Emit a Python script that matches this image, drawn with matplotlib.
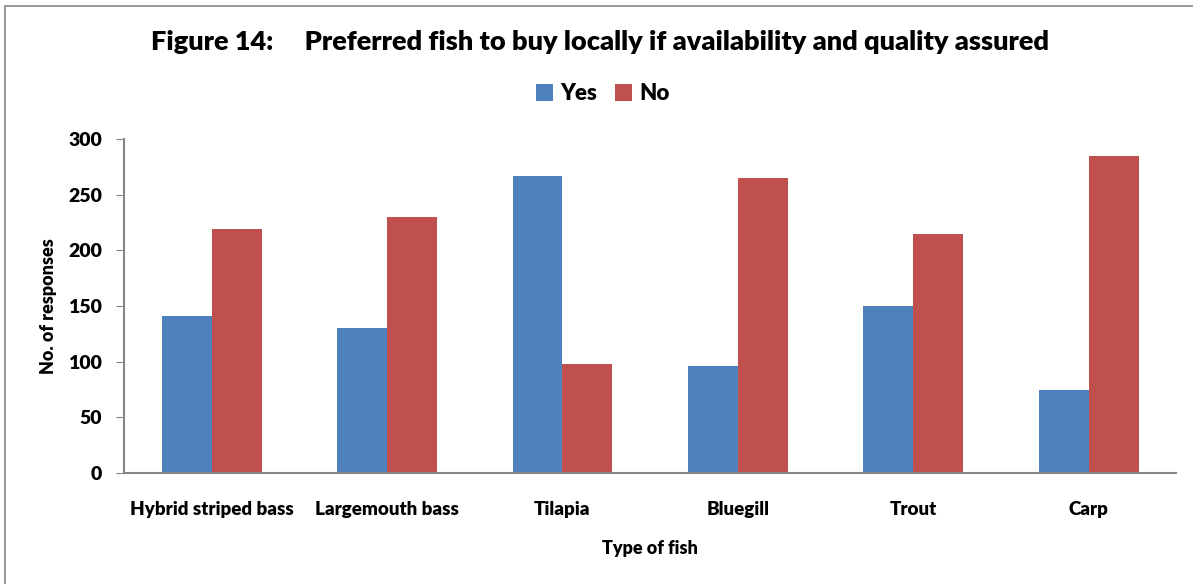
import numpy as np
import matplotlib.pyplot as plt
from matplotlib.patches import Rectangle

# Data
fish = ['Hybrid striped bass', 'Largemouth bass', 'Tilapia', 'Bluegill', 'Trout', 'Carp']
yes_counts = [141, 130, 267, 96, 150, 75]
no_counts = [219, 230, 98, 265, 215, 285]
y_ticks = [0, 50, 100, 150, 200, 250, 300]

plt.rcParams['font.family'] = ['Lato', 'DejaVu Sans']
W = 'heavy'


def main():
    fig = plt.figure(figsize=(11.93, 5.84), dpi=100)
    ax = fig.add_axes([0.104, 0.190, 0.882, 0.572])

    x = np.arange(len(fish))
    width = 0.285
    ax.bar(x - width / 2, yes_counts, width, color='#4F81BD', label='Yes')
    ax.bar(x + width / 2, no_counts, width, color='#C0504D', label='No')

    ax.set_xlim(-0.5, len(fish) - 0.5)
    ax.set_ylim(0, 300)
    ax.set_yticks(y_ticks)
    ax.set_xticks(x)
    ax.set_xticklabels(fish, fontsize=13.5, fontweight=W)
    ax.tick_params(axis='y', labelsize=14, length=6, color='#868686', pad=10)
    ax.tick_params(axis='x', length=0, pad=20)
    for lbl in ax.get_yticklabels():
        lbl.set_fontweight(W)

    for side in ['top', 'right']:
        ax.spines[side].set_visible(False)
    for side in ['left', 'bottom']:
        ax.spines[side].set_color('#868686')
        ax.spines[side].set_linewidth(1.5)

    ax.set_ylabel('No. of responses', fontsize=13, fontweight=W, labelpad=8)
    ax.set_xlabel('Type of fish', fontsize=13, fontweight=W, labelpad=16)

    fig.text(0.503, 0.928, 'Figure 14:     Preferred fish to buy locally if availability and quality assured',
             ha='center', va='center', fontsize=19.5, fontweight=W)
    fig.legend(loc='center', bbox_to_anchor=(0.505, 0.840), ncol=2, frameon=False,
               handlelength=0.8, handleheight=0.8, handletextpad=0.3,
               columnspacing=0.8, prop={'weight': W, 'size': 16})

    # outer chart border
    fig.patches.append(Rectangle((0.004, -0.01), 1.0, 1.0, transform=fig.transFigure,
                                 fill=False, edgecolor='#868686', linewidth=1.2))

    fig.savefig('out.png', dpi=100)


if __name__ == "__main__":
    main()
